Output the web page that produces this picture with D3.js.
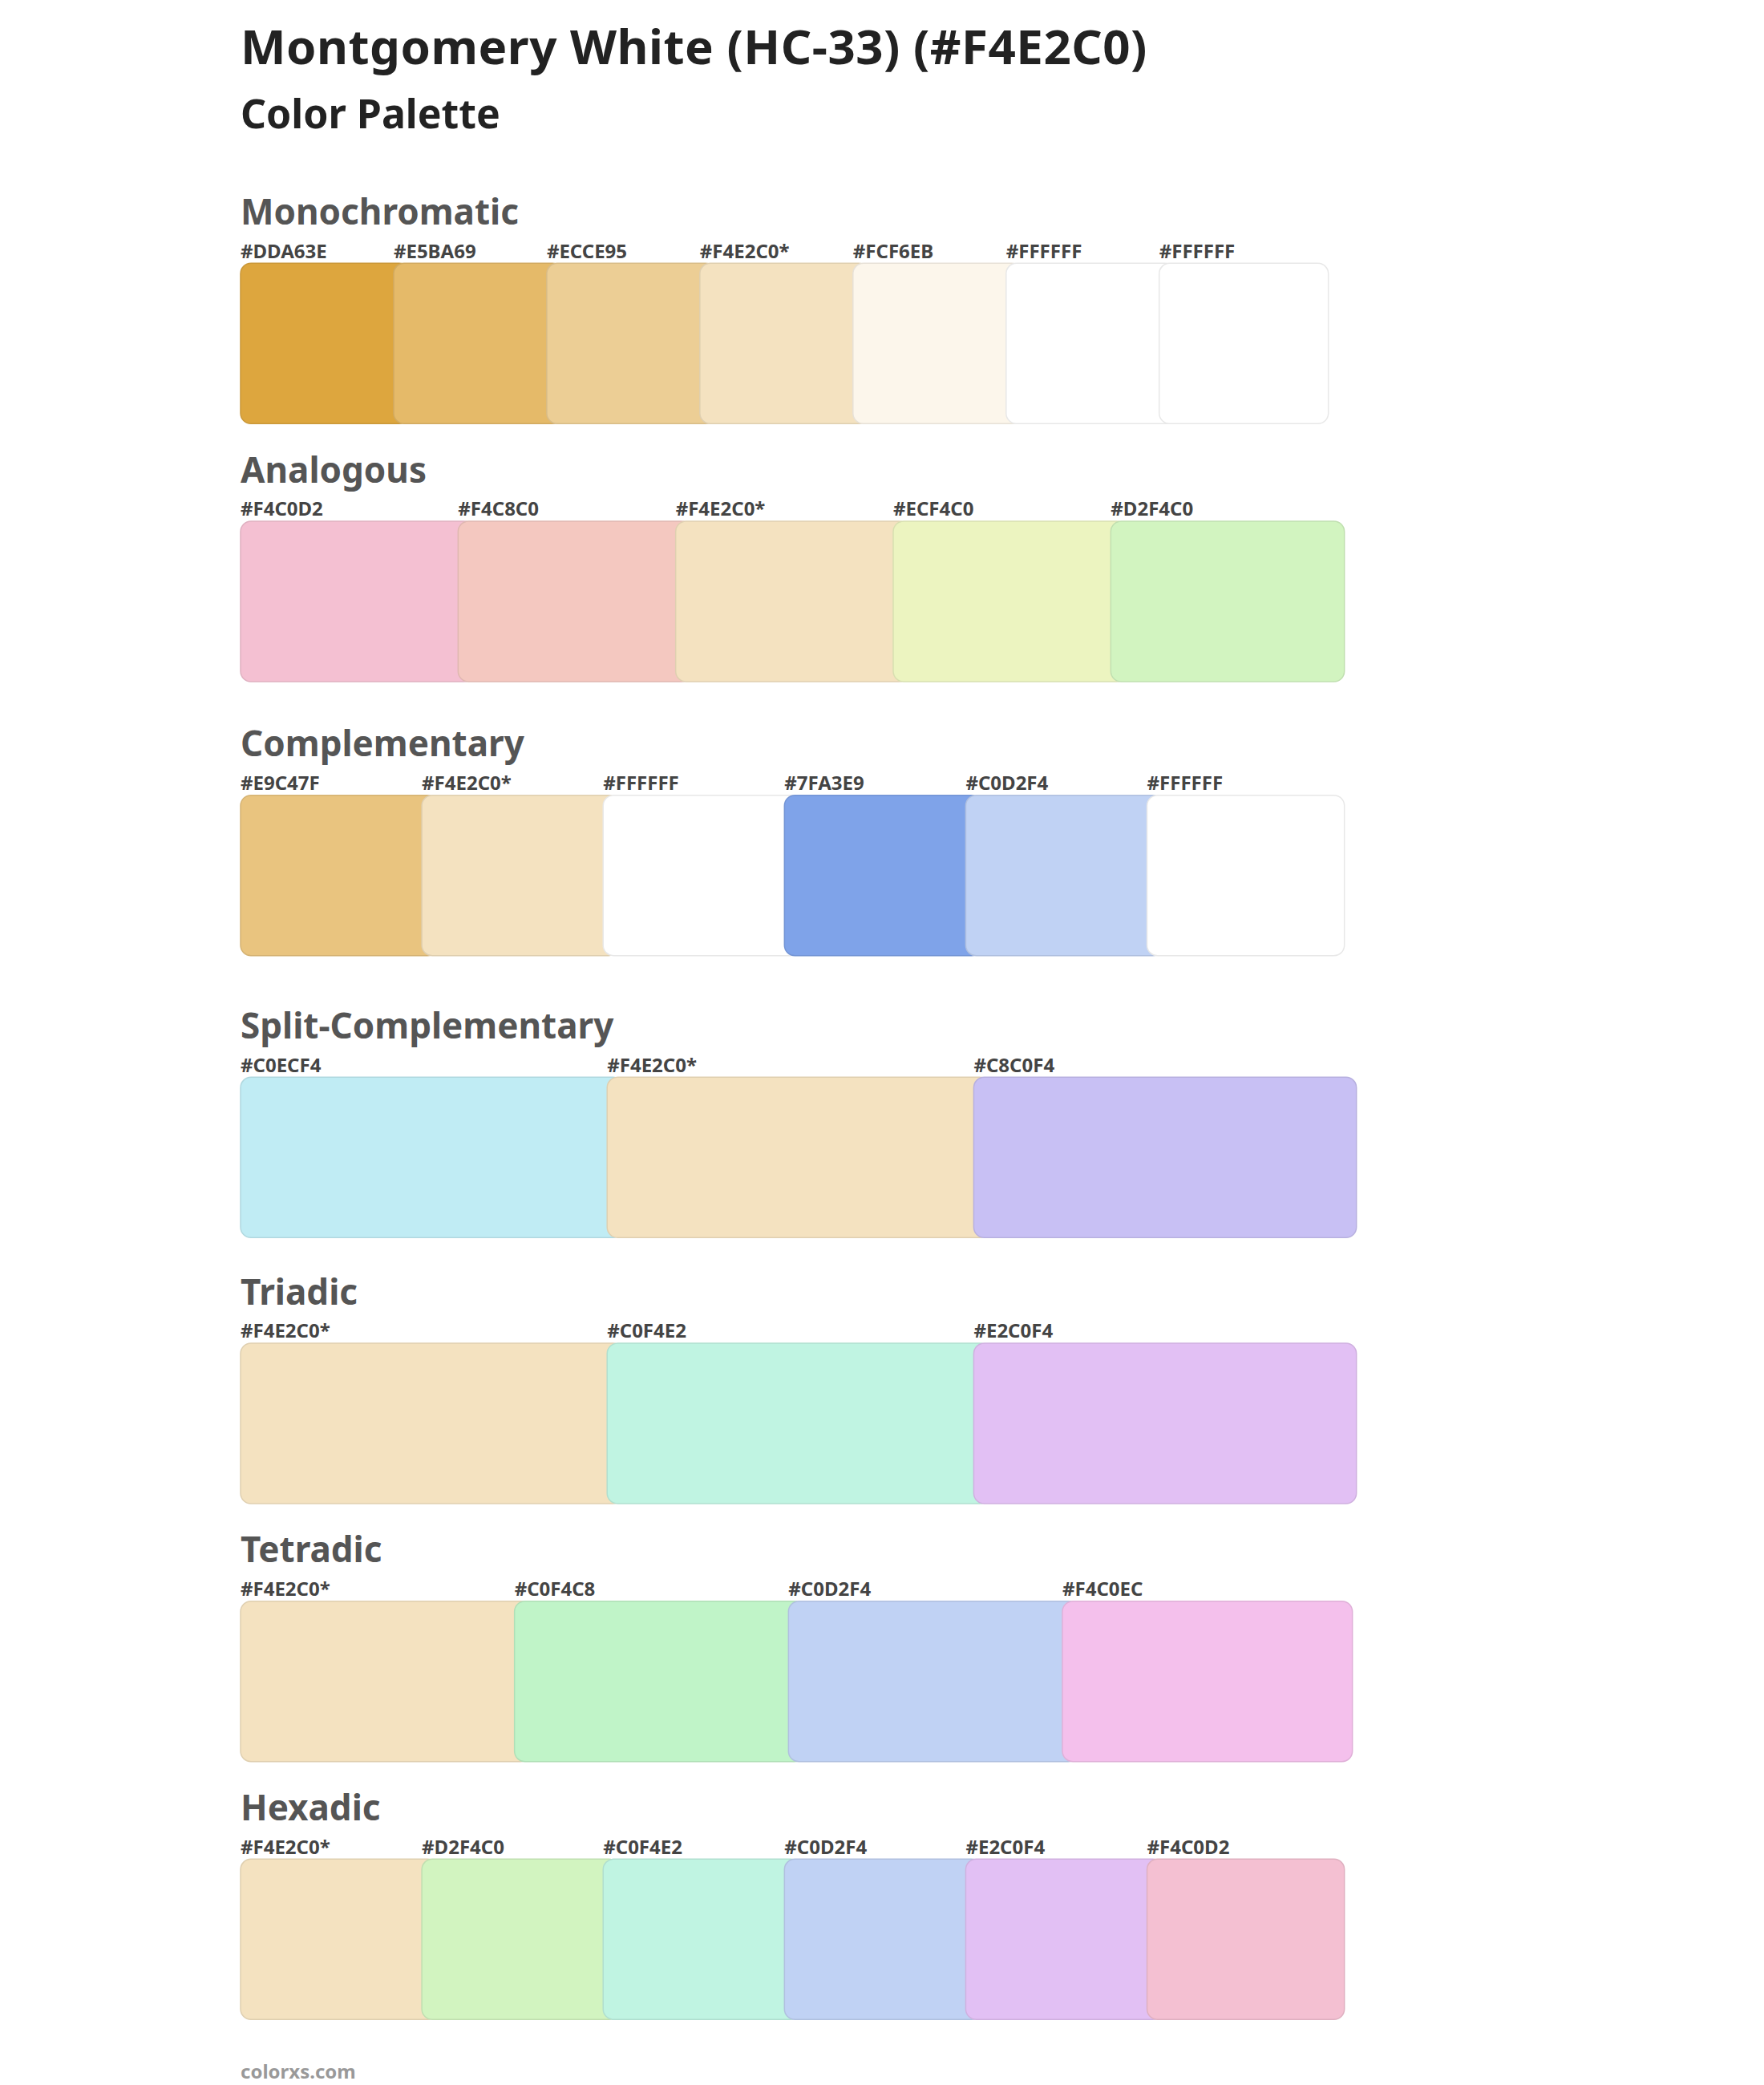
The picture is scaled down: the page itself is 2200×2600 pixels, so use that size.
<!DOCTYPE html>
<html><head><meta charset="utf-8">
<script src="https://cdn.jsdelivr.net/npm/d3@7"></script>
<style>body{margin:0;background:#fff}svg{display:block}</style>
</head><body>
<script>
const title = "Montgomery White (HC-33) (#F4E2C0)";
const subtitle = "Color Palette";
const footer = "colorxs.com";
const sectionNames = ["Monochromatic","Analogous","Complementary","Split-Complementary","Triadic","Tetradic","Hexadic"];
const monochromatic = ["#DDA63E","#E5BA69","#ECCE95","#F4E2C0*","#FCF6EB","#FFFFFF","#FFFFFF"];
const analogous = ["#F4C0D2","#F4C8C0","#F4E2C0*","#ECF4C0","#D2F4C0"];
const complementary = ["#E9C47F","#F4E2C0*","#FFFFFF","#7FA3E9","#C0D2F4","#FFFFFF"];
const splitComplementary = ["#C0ECF4","#F4E2C0*","#C8C0F4"];
const triadic = ["#F4E2C0*","#C0F4E2","#E2C0F4"];
const tetradic = ["#F4E2C0*","#C0F4C8","#C0D2F4","#F4C0EC"];
const hexadic = ["#F4E2C0*","#D2F4C0","#C0F4E2","#C0D2F4","#E2C0F4","#F4C0D2"];
const sections = [monochromatic,analogous,complementary,splitComplementary,triadic,tetradic,hexadic];

const S = 2200/1320;
const headingY = [168,361,566,777,976,1169,1362];
const rightEdge = [994,1006,1006,1015,1015,1012,1006];

const svg = d3.select("body").append("svg").attr("width",2200).attr("height",2600);
const L = 180*S;
const font = "'Noto Sans', 'Open Sans', sans-serif";
svg.append("text").attr("x",L).attr("y",48*S).attr("font-family",font).attr("font-weight",700)
  .attr("font-size",60).attr("fill","#222").attr("letter-spacing",0.5).text(title);
svg.append("text").attr("x",L).attr("y",96*S).attr("font-family",font).attr("font-weight",700)
  .attr("font-size",50).attr("fill","#222").attr("letter-spacing",0).text(subtitle);

sections.forEach((cols,si)=>{
  const hy = headingY[si]*S;
  const g = svg.append("g");
  g.append("text").attr("x",L).attr("y",hy).attr("font-family",font).attr("font-weight",700)
    .attr("font-size",44).attr("fill","#555").attr("letter-spacing",0).text(sectionNames[si]);
  const n = cols.length;
  const total = (rightEdge[si]-180)*S;
  const ov = 12*S;
  const step = (total-ov)/n;
  const w = step+ov;
  const x = d3.scaleLinear().domain([0,n]).range([L, L+step*n]);
  const top = hy + 29*S, h = 120*S;
  cols.forEach((c,i)=>{
    const hex = c.replace("*","");
    const col = d3.color(hex);
    g.append("rect").attr("x",x(i)).attr("y",top).attr("width",w).attr("height",h)
      .attr("rx",13).attr("fill",hex)
      .attr("stroke", hex==="#FFFFFF" ? "#e8e8e8" : col.darker(0.25)).attr("stroke-width",1.5);
    g.append("text").attr("x",x(i)).attr("y",hy+25*S).attr("font-family",font).attr("font-weight",700)
      .attr("font-size",24).attr("fill","#444").text(c);
  });
});
svg.append("text").attr("x",L).attr("y",1555*S).attr("font-family",font).attr("font-weight",700)
  .attr("font-size",24).attr("fill","#999").text(footer);
</script>
</body></html>
